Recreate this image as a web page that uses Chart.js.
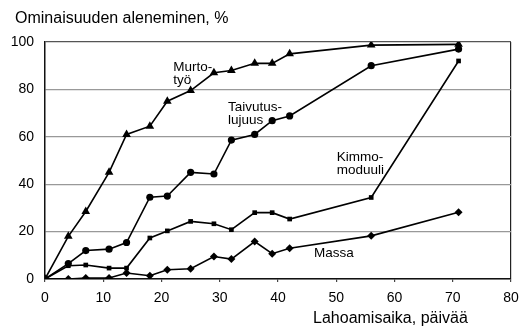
<!DOCTYPE html>
<html>
<head>
<meta charset="utf-8">
<script src="https://cdn.jsdelivr.net/npm/chart.js@4"></script>
<style>
  html, body { margin: 0; padding: 0; background: #fff; }
  #wrap { width: 520px; height: 329px; }
</style>
</head>
<body>
<div id="wrap"><canvas id="decayChart" width="520" height="329"></canvas></div>
<script>
// decay time, days
const days = [0, 4, 7, 11, 14, 18, 21, 25, 29, 32, 36, 39, 42, 56, 71];

// property loss, %
const murtotyo       = [0, 18, 28.5, 45, 61, 64.5, 75, 79.5, 87, 88, 91, 91, 95, 98.7, 99];
const taivutuslujuus = [0, 6.5, 12, 12.6, 15.4, 34.5, 35, 45, 44.3, 58.6, 61, 66.8, 68.8, 90, 97];
const kimmomoduuli   = [0, 5.6, 5.9, 4.6, 4.6, 17.3, 20.3, 24.3, 23.3, 20.8, 28, 28, 25.3, 34.4, 92];
const massa          = [0, 0, 0.4, 0.4, 2.5, 1.4, 3.9, 4.3, 9.5, 8.4, 15.8, 10.7, 13, 18.2, 28.2];

const yTicks = [0, 20, 40, 60, 80, 100];
const xTicks = [0, 10, 20, 30, 40, 50, 60, 70, 80];

// curve labels, in data coordinates (x = day, y = %)
const curveLabels = [
    { lines: ['Murto-', 'työ'], x: 22, y: 89.5 },
    { lines: ['Taivutus-', 'lujuus'], x: 31.4, y: 72.5 },
    { lines: ['Kimmo-', 'moduuli'], x: 50.1, y: 51.5 },
    { lines: ['Massa'], x: 46.2, y: 11 }
];

function toPoints(values) {
    return values.map(function (v, i) { return { x: days[i], y: v }; });
}

function series(label, values, style, radius) {
    return {
        label: label,
        data: toPoints(values),
        borderColor: '#000',
        backgroundColor: '#000',
        borderWidth: 1.6,
        pointStyle: style,
        pointRadius: radius,
        pointBorderWidth: 0,
        tension: 0
    };
}

const textPlugin = {
    id: 'textPlugin',
    afterDraw: function (chart) {
        const ctx = chart.ctx;
        const xs = chart.scales.x;
        const ys = chart.scales.y;
        ctx.save();
        ctx.fillStyle = '#000';
        ctx.textBaseline = 'middle';

        ctx.font = '16px "Liberation Sans", Arial, sans-serif';
        ctx.textAlign = 'left';
        ctx.fillText('Ominaisuuden aleneminen, %', 15, 19);

        ctx.textAlign = 'center';
        ctx.fillText('Lahoamisaika, päivää', xs.getPixelForValue(59.3), 319);

        ctx.font = '13.5px "Liberation Sans", Arial, sans-serif';
        ctx.textAlign = 'left';
        curveLabels.forEach(function (c) {
            const px = xs.getPixelForValue(c.x);
            const py = ys.getPixelForValue(c.y);
            c.lines.forEach(function (t, i) {
                ctx.fillText(t, px, py + i * 13);
            });
        });
        ctx.restore();
    }
};

new Chart(document.getElementById('decayChart'), {
    type: 'line',
    data: {
        datasets: [
            series('Murtotyö', murtotyo, 'triangle', 5),
            series('Taivutuslujuus', taivutuslujuus, 'circle', 3.6),
            series('Kimmomoduuli', kimmomoduuli, 'rect', 3.3),
            series('Massa', massa, 'rectRot', 4)
        ]
    },
    options: {
        responsive: false,
        animation: false,
        layout: { padding: { left: 0, right: 9, top: 42, bottom: 0 } },
        scales: {
            x: {
                type: 'linear',
                min: 0,
                max: 80,
                afterBuildTicks: function (scale) {
                    scale.ticks = xTicks.map(function (v) { return { value: v }; });
                },
                afterFit: function (scale) {
                    scale.height = 50;
                    scale.paddingLeft = 0;
                    scale.paddingRight = 0;
                },
                grid: {
                    drawOnChartArea: true,
                    color: function (c) { return c.tick && c.tick.value === 80 ? '#222' : 'rgba(0,0,0,0)'; },
                    tickColor: '#444',
                    tickLength: 3,
                    lineWidth: 1.2
                },
                border: { color: '#111', width: 1.5 },
                ticks: {
                    color: '#000',
                    padding: 8,
                    maxRotation: 0,
                    font: { family: '"Liberation Sans", Arial, sans-serif', size: 14 }
                }
            },
            y: {
                min: 0,
                max: 100,
                afterBuildTicks: function (scale) {
                    scale.ticks = yTicks.map(function (v) { return { value: v }; });
                },
                afterFit: function (scale) { scale.width = 45; },
                grid: {
                    color: function (c) { return c.tick && c.tick.value === 100 ? '#555' : '#999'; },
                    lineWidth: 1.2,
                    drawTicks: false
                },
                border: { color: '#111', width: 1.5 },
                ticks: {
                    color: '#000',
                    padding: 11,
                    font: { family: '"Liberation Sans", Arial, sans-serif', size: 14 }
                }
            }
        },
        plugins: {
            legend: { display: false },
            tooltip: { enabled: false }
        }
    },
    plugins: [textPlugin]
});
</script>
</body>
</html>
